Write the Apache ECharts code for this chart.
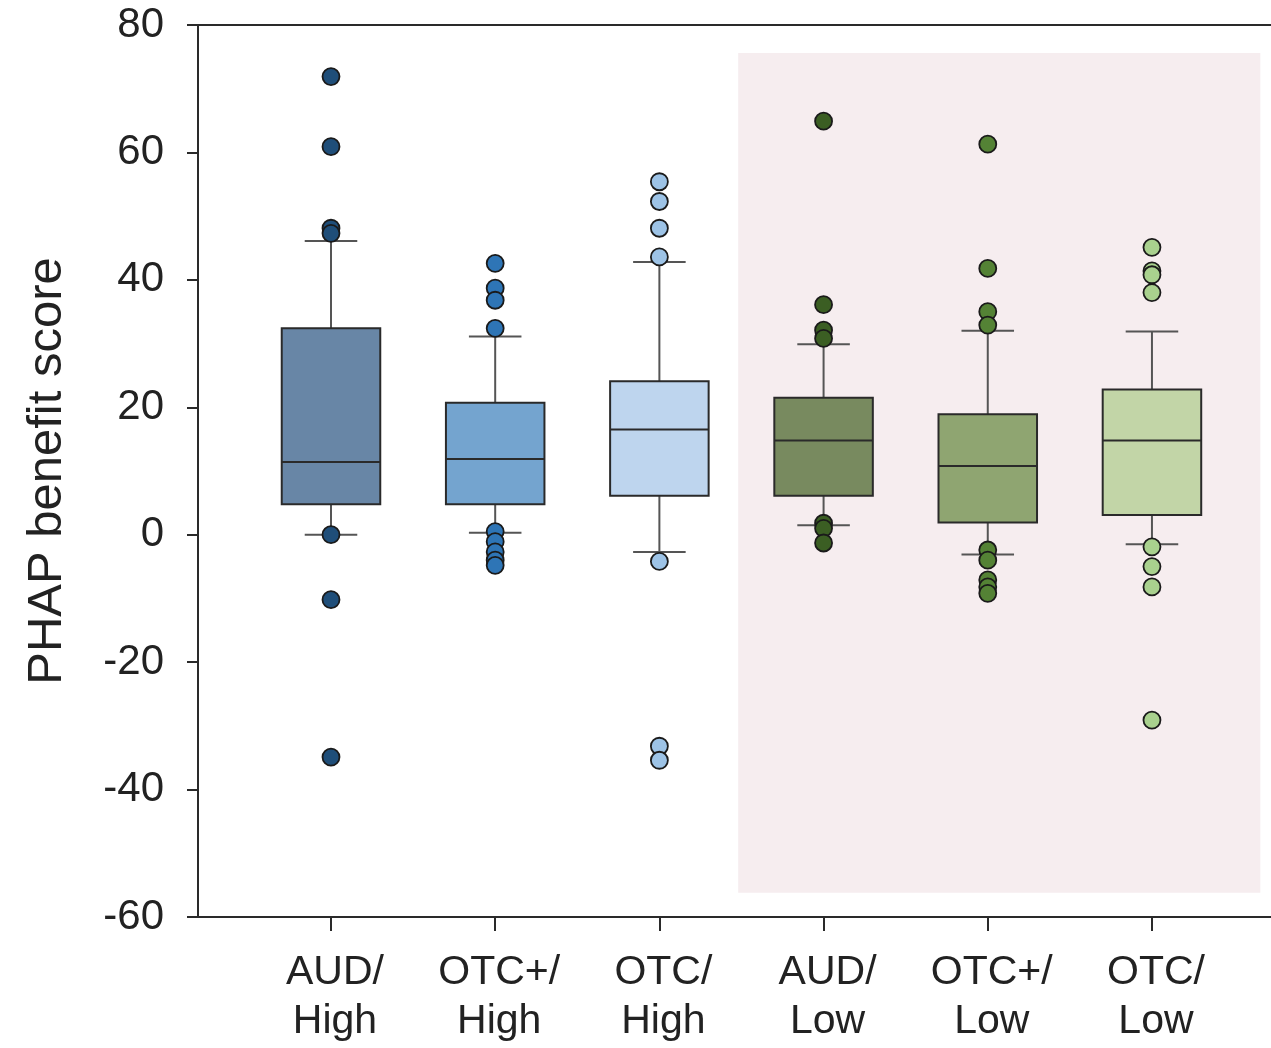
<!DOCTYPE html>
<html>
<head>
<meta charset="utf-8">
<script src="https://cdn.jsdelivr.net/npm/echarts@6/dist/echarts.min.js"></script>
<style>
html,body{margin:0;padding:0;background:#fff;}
#chart{width:1271px;height:1048px;}
</style>
</head>
<body>
<div id="chart"></div>
<script>
// ---- data ----
var categories = ['AUD/\nHigh', 'OTC+/\nHigh', 'OTC/\nHigh', 'AUD/\nLow', 'OTC+/\nLow', 'OTC/\nLow'];
var positions = [1, 2, 3, 4, 5, 6];
var whiskerLow = [0, 0.3, -2.7, 1.5, -3.1, -1.5];
var q1 = [4.8, 4.8, 6.1, 6.1, 1.9, 3.1];
var median = [11.4, 11.9, 16.5, 14.8, 10.8, 14.8];
var q3 = [32.4, 20.7, 24.1, 21.5, 18.9, 22.8];
var whiskerHigh = [46.1, 31.1, 42.8, 29.9, 32.0, 31.9];
var outliers1 = [71.9, 60.9, 48.1, 47.3, 0, -10.2, -34.9];
var outliers2 = [42.6, 38.7, 36.8, 32.4, 0.5, -1.1, -2.7, -4.0, -4.8];
var outliers3 = [55.4, 52.3, 48.1, 43.6, -4.2, -33.2, -35.4];
var outliers4 = [64.9, 36.1, 32.1, 30.8, 1.8, 1.0, -1.3];
var outliers5 = [61.3, 41.8, 35.0, 32.9, -2.4, -4.0, -7.1, -8.2, -9.2];
var outliers6 = [45.1, 41.4, 40.8, 38.0, -1.9, -5.0, -8.2, -29.1];
var yTicks = [-60, -40, -20, 0, 20, 40, 60, 80];
var shadedRange = { x: [3.48, 6.66], y: [-56.2, 75.6] };

// ---- styles ----
var boxFill = ['#6886a6', '#74a4cf', '#bed5ee', '#788a5f', '#8fa571', '#c2d5a7'];
var dotColor = ['#1f4e79', '#2e75b6', '#9dc3e6', '#3b5e23', '#548235', '#a9d18e'];
var FONT = "'Liberation Sans', Arial, sans-serif";

var outlierSets = [outliers1, outliers2, outliers3, outliers4, outliers5, outliers6];

var boxData = positions.map(function (p, i) {
  return [p, whiskerLow[i], q1[i], median[i], q3[i], whiskerHigh[i]];
});

function renderBox(params, api) {
  var idx = params.dataIndex;
  var x = api.value(0);
  var unit = api.size([1, 0])[0];
  var boxW = unit * 0.6;
  var capW = unit * 0.32;
  var pLow = api.coord([x, api.value(1)]);
  var pQ1 = api.coord([x, api.value(2)]);
  var pMed = api.coord([x, api.value(3)]);
  var pQ3 = api.coord([x, api.value(4)]);
  var pHigh = api.coord([x, api.value(5)]);
  var cx = pQ1[0];
  var lineStyle = { stroke: '#555', lineWidth: 2 };
  var edge = { stroke: '#2a2a2a', lineWidth: 2 };
  return {
    type: 'group',
    children: [
      { type: 'line', shape: { x1: cx, y1: pQ3[1], x2: cx, y2: pHigh[1] }, style: lineStyle },
      { type: 'line', shape: { x1: cx, y1: pQ1[1], x2: cx, y2: pLow[1] }, style: lineStyle },
      { type: 'line', shape: { x1: cx - capW / 2, y1: pHigh[1], x2: cx + capW / 2, y2: pHigh[1] }, style: lineStyle },
      { type: 'line', shape: { x1: cx - capW / 2, y1: pLow[1], x2: cx + capW / 2, y2: pLow[1] }, style: lineStyle },
      { type: 'rect', shape: { x: cx - boxW / 2, y: pQ3[1], width: boxW, height: pQ1[1] - pQ3[1] },
        style: { fill: boxFill[idx], stroke: '#2a2a2a', lineWidth: 2 } },
      { type: 'line', shape: { x1: cx - boxW / 2, y1: pMed[1], x2: cx + boxW / 2, y2: pMed[1] }, style: edge }
    ]
  };
}

var series = [
  {
    type: 'line', data: [], z: 1, silent: true,
    markArea: {
      silent: true,
      itemStyle: { color: '#f6edef' },
      data: [[{ coord: [shadedRange.x[0], shadedRange.y[1]] }, { coord: [shadedRange.x[1], shadedRange.y[0]] }]]
    }
  },
  {
    type: 'custom', z: 2, renderItem: renderBox, data: boxData,
    encode: { x: 0, y: [1, 2, 3, 4, 5] }
  }
];
outlierSets.forEach(function (set, i) {
  series.push({
    type: 'scatter', z: 3,
    symbol: 'circle', symbolSize: 17,
    itemStyle: { color: dotColor[i], borderColor: '#1a1a1a', borderWidth: 1.8, opacity: 1 },
    data: set.map(function (v) { return [positions[i], v]; })
  });
});

var chart = echarts.init(document.getElementById('chart'), null, { renderer: 'canvas' });
chart.setOption({
  animation: false,
  backgroundColor: '#ffffff',
  grid: { left: 198, right: 0, top: 25, bottom: 131, containLabel: false },
  xAxis: [
    {
      type: 'value', min: 0.19, max: 6.725, position: 'bottom',
      splitLine: { show: false },
      axisLine: { show: true, onZero: false, lineStyle: { color: '#2a2a2a', width: 2 } },
      axisTick: { show: true, length: 14, inside: false, customValues: positions, lineStyle: { color: '#2a2a2a', width: 2 } },
      axisLabel: {
        show: true, customValues: positions, margin: 31,
        fontSize: 41, lineHeight: 49, color: '#222', fontFamily: FONT,
        padding: [0, 0, 0, 8],
        formatter: function (v) { var i = positions.indexOf(Math.round(v)); return i >= 0 ? categories[i] : ''; }
      }
    },
    {
      type: 'value', min: 0.19, max: 6.725, position: 'top',
      splitLine: { show: false },
      axisLine: { show: true, onZero: false, lineStyle: { color: '#2a2a2a', width: 2 } },
      axisTick: { show: false }, axisLabel: { show: false }
    }
  ],
  yAxis: {
    type: 'value', min: yTicks[0], max: yTicks[yTicks.length - 1], interval: 20,
    splitLine: { show: false },
    axisLine: { show: true, onZero: false, lineStyle: { color: '#2a2a2a', width: 2 } },
    axisTick: { show: true, length: 11, inside: false, lineStyle: { color: '#2a2a2a', width: 2 } },
    axisLabel: { margin: 34, fontSize: 42, color: '#222', fontFamily: FONT },
    name: 'PHAP benefit score', nameLocation: 'middle', nameGap: 126,
    nameTextStyle: { fontSize: 49, color: '#222', fontFamily: FONT }
  },
  series: series
});
</script>
</body>
</html>
